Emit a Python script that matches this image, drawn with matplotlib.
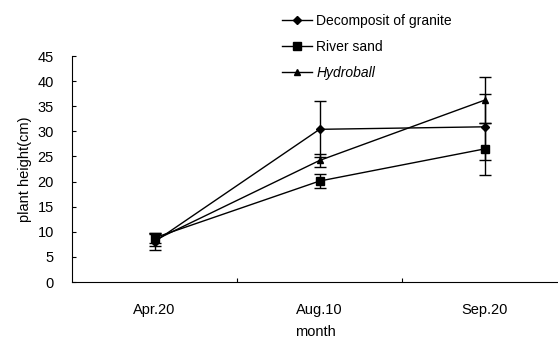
import matplotlib
matplotlib.use('Agg')
import matplotlib.pyplot as plt
from matplotlib.lines import Line2D
import numpy as np

plt.rcParams['font.family'] = ['Liberation Sans', 'DejaVu Sans']

months = ['Apr.20', 'Aug.10', 'Sep.20']
granite = [8.0, 30.4, 30.9]
granite_err = [1.7, 5.6, 6.6]
river = [8.8, 20.1, 26.5]
river_err = [1.0, 1.4, 5.1]
hydro = [8.3, 24.2, 36.2]
hydro_err = [1.2, 1.3, 4.6]

fig = plt.figure(figsize=(5.58, 3.38), dpi=100)
ax = fig.add_axes([72 / 558, 56 / 338, (558 - 72) / 558, (282 - 56) / 338])

x = np.arange(len(months)) + 0.5
kw = dict(color='black', lw=1, ecolor='black', elinewidth=1, capsize=4, capthick=1)
ax.errorbar(x, granite, yerr=granite_err, marker='D', ms=4, **kw)
ax.errorbar(x, river, yerr=river_err, marker='s', ms=6, **kw)
ax.errorbar(x, hydro, yerr=hydro_err, marker='^', ms=5, **kw)

ax.set_xlim(0, 2.945)
ax.set_ylim(0, 45)
ax.set_yticks(range(0, 46, 5))
ax.set_xticks([1, 2], minor=False)
ax.set_xticklabels([])
ax.set_xticks(x, minor=True)
ax.set_xticklabels(months, minor=True)
ax.tick_params(axis='x', which='major', direction='in', length=3)
ax.tick_params(axis='x', which='minor', length=0, pad=15, labelsize=10.5)
ax.tick_params(axis='y', direction='in', length=3, labelsize=10.5, pad=13)
for s in ['top', 'right']:
    ax.spines[s].set_visible(False)
ax.set_xlabel('month', fontsize=10.5, labelpad=6)
ax.set_ylabel('plant height(cm)', fontsize=10.5, labelpad=4)

handles = [Line2D([], [], color='black', lw=1, marker='D', ms=4),
           Line2D([], [], color='black', lw=1, marker='s', ms=6),
           Line2D([], [], color='black', lw=1, marker='^', ms=5)]
leg = fig.legend(handles, ['Decomposit of granite', 'River sand', 'Hydroball'],
                 loc='upper left', bbox_to_anchor=(269 / 558, 0.995), frameon=False,
                 fontsize=10, handlelength=2.2, handletextpad=0.3, labelspacing=0.85)
leg.get_texts()[2].set_style('italic')

fig.savefig('out.png', dpi=100)
